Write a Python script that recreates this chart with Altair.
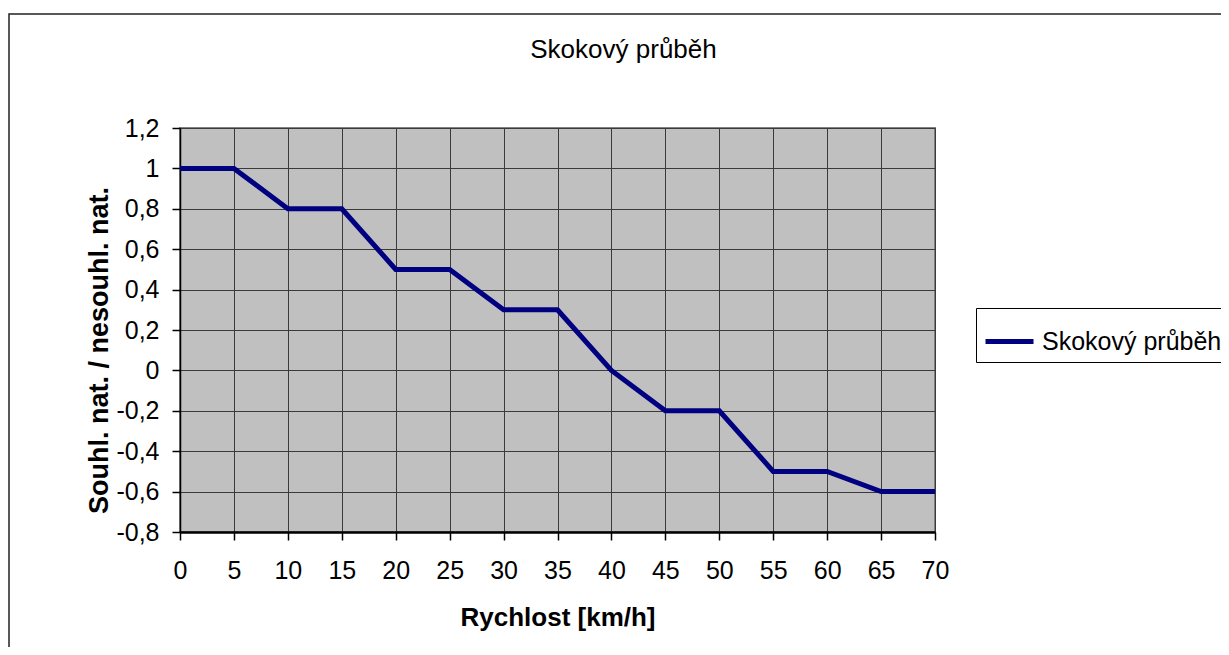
import altair as alt
import pandas as pd

# Data
speeds = [0, 5, 10, 15, 20, 25, 30, 35, 40, 45, 50, 55, 60, 65, 70]
values = [1, 1, 0.8, 0.8, 0.5, 0.5, 0.3, 0.3, 0, -0.2, -0.2, -0.5, -0.5, -0.6, -0.6]
series_name = "Skokový průběh"
chart_title = "Skokový průběh"
x_title = "Rychlost [km/h]"
y_title = "Souhl. nat. / nesouhl. nat."
x_ticks = [0, 5, 10, 15, 20, 25, 30, 35, 40, 45, 50, 55, 60, 65, 70]
y_ticks = [-0.8, -0.6, -0.4, -0.2, 0, 0.2, 0.4, 0.6, 0.8, 1.0, 1.2]

df = pd.DataFrame({"speed": speeds, "value": values, "series": [series_name] * len(speeds)})
one = pd.DataFrame({"t": [chart_title]})

FONT = "Liberation Sans"
W, H = 755, 404

line = alt.Chart(df).mark_line(strokeWidth=5, clip=False).encode(
    x=alt.X(
        "speed:Q",
        scale=alt.Scale(domain=[0, 70], nice=False, zero=False),
        axis=alt.Axis(
            values=x_ticks,
            title=x_title,
            titleFontSize=26,
            titleFontWeight="bold",
            titleFont=FONT,
            titleColor="black",
            titleBaseline="alphabetic",
            titleY=93,
            labelFontSize=25,
            labelFont=FONT,
            labelColor="black",
            labelPadding=18,
            labelBaseline="top",
            tickSize=8,
            tickColor="black",
            tickWidth=1.5,
            domainColor="black",
            domainWidth=2.5,
            grid=True,
            gridColor="#3a3a3a",
            gridWidth=1,
            gridOpacity=1,
            labelFlush=False,
            labelOverlap=False,
        ),
    ),
    y=alt.Y(
        "value:Q",
        scale=alt.Scale(domain=[-0.8, 1.2], nice=False, zero=False),
        axis=alt.Axis(
            values=y_ticks,
            title=y_title,
            titleFontSize=27,
            titleFontWeight="bold",
            titleFont=FONT,
            titleColor="black",
            titleAngle=270,
            titleAlign="center",
            titleBaseline="alphabetic",
            titleX=-73,
            titleY=222,
            labelFontSize=25,
            labelFont=FONT,
            labelColor="black",
            labelPadding=13,
            labelExpr="replace(toString(round(datum.value*10)/10), '.', ',')",
            tickSize=8,
            tickColor="black",
            tickWidth=1.5,
            domainColor="black",
            domainWidth=1.5,
            grid=True,
            gridColor="#3a3a3a",
            gridWidth=1,
            gridOpacity=1,
            labelFlush=False,
            labelOverlap=False,
        ),
    ),
    color=alt.Color(
        "series:N",
        scale=alt.Scale(range=["#000080"]),
        legend=alt.Legend(
            title=None,
            orient="none",
            legendX=796,
            legendY=180,
            symbolType="stroke",
            symbolSize=2304,
            symbolStrokeWidth=5,
            labelFontSize=25,
            labelFont=FONT,
            labelColor="black",
            labelOffset=6,
            labelLimit=400,
            padding=7,
            strokeColor="black",
            fillColor="white",
            cornerRadius=0,
        ),
    ),
)

title_text = alt.Chart(one).mark_text(
    fontSize=26, font=FONT, color="black", align="center", baseline="alphabetic"
).encode(x=alt.value(443.5), y=alt.value(-70), text="t:N")

frame = alt.Chart(one).mark_rect(
    fillOpacity=0, stroke="#222222", strokeWidth=1.5
).encode(
    x=alt.value(-171), x2=alt.value(1200), y=alt.value(-114), y2=alt.value(700)
)

chart = (
    alt.layer(frame, line, title_text)
    .properties(
        width=W,
        height=H,
        autosize=alt.AutoSizeParams(type="none"),
        padding={"left": 172, "top": 120, "right": 286, "bottom": 115},
        background="white",
    )
    .configure_view(fill="#C0C0C0", stroke="#808080", strokeWidth=2)
)

chart.save("out.html", embed_options={"renderer": "svg", "actions": False})
